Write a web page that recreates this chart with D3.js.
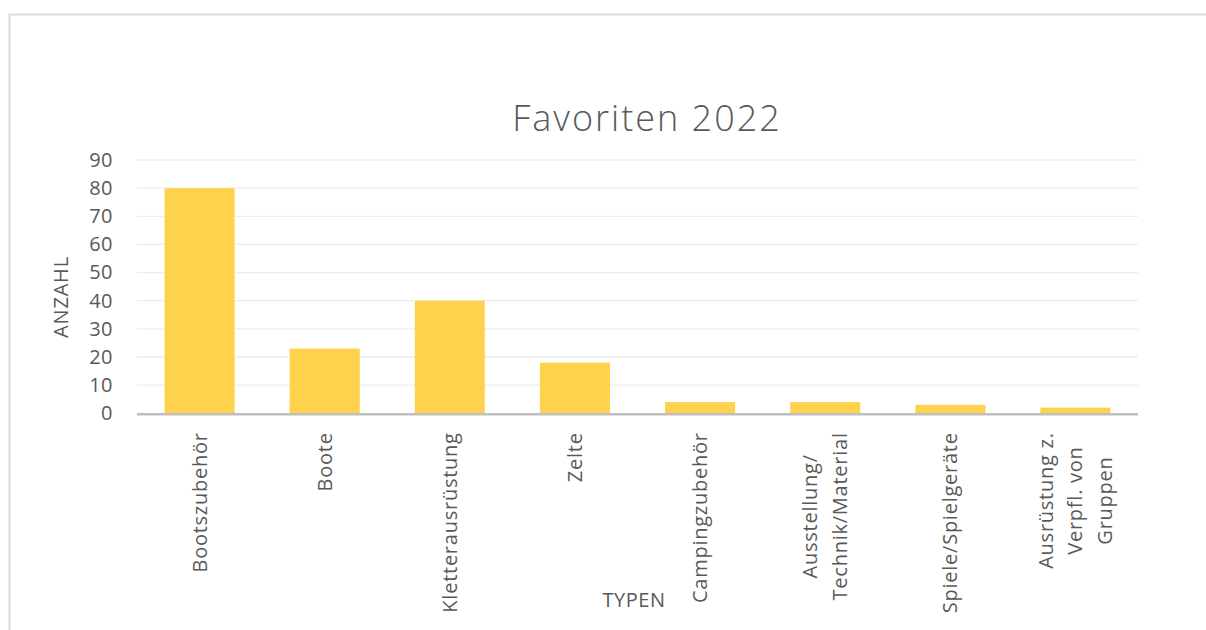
<!DOCTYPE html>
<html>
<head>
<meta charset="utf-8">
<script src="https://cdn.jsdelivr.net/npm/d3@7"></script>
<style>
  html, body { margin: 0; padding: 0; background: #fff; }
  svg { display: block; font-family: "Open Sans", sans-serif; }
</style>
</head>
<body>
<div id="chart"></div>
<script>
const categories = [
  ['Bootszubehör'],
  ['Boote'],
  ['Kletterausrüstung'],
  ['Zelte'],
  ['Campingzubehör'],
  ['Ausstellung/', 'Technik/Material'],
  ['Spiele/Spielgeräte'],
  ['Ausrüstung z.', 'Verpfl. von', 'Gruppen'],
];
const values = [80, 23, 40, 18, 4, 4, 3, 2];
const yTicks = [0, 10, 20, 30, 40, 50, 60, 70, 80, 90];

const colors = {
  bar: '#FFD24D',
  text: '#595959',
  grid: '#EDEDED',
  axis: '#BFBFBF',
  border: '#D9D9D9',
};

const svgWidth = 1206;
const svgHeight = 630;

const leftMargin = 137;
const rightMargin = 68;
const topMargin = 160;
const graphWidth = svgWidth - leftMargin - rightMargin;
const graphHeight = 413.3 - topMargin;

const svg = d3.select('#chart').append('svg')
  .attr('width', svgWidth)
  .attr('height', svgHeight);

// chart area border (only top and left edges are inside the window)
svg.append('rect')
  .attr('x', 9.5)
  .attr('y', 14.5)
  .attr('width', 1300)
  .attr('height', 700)
  .attr('fill', '#fff')
  .attr('stroke', colors.border)
  .attr('stroke-width', 2);

const plot = svg.append('g').attr('transform', `translate(${leftMargin},${topMargin})`);

const xScale = d3.scaleBand()
  .domain(d3.range(categories.length))
  .range([0, graphWidth])
  .paddingInner(0.44)
  .paddingOuter(0.22);

const yScale = d3.scaleLinear()
  .domain([0, 90])
  .range([graphHeight, 0]);

// gridlines
plot.append('g')
  .selectAll('line')
  .data(yTicks.filter(d => d > 0))
  .join('line')
    .attr('x1', 0)
    .attr('x2', graphWidth)
    .attr('y1', d => yScale(d))
    .attr('y2', d => yScale(d))
    .attr('stroke', colors.grid)
    .attr('stroke-width', 1.3);

// y axis labels
const yAxis = plot.append('g')
  .call(d3.axisLeft(yScale).tickValues(yTicks).tickSize(0).tickPadding(24));
yAxis.select('.domain').remove();
yAxis.selectAll('.tick text')
  .attr('font-size', 20)
  .attr('font-family', '"Open Sans", sans-serif')
  .attr('letter-spacing', 0.5)
  .attr('fill', colors.text);

// bars
plot.append('g')
  .selectAll('rect')
  .data(values)
  .join('rect')
    .attr('x', (d, i) => xScale(i))
    .attr('y', d => yScale(d))
    .attr('width', xScale.bandwidth())
    .attr('height', d => graphHeight - yScale(d))
    .attr('fill', colors.bar);

// x axis line
plot.append('line')
  .attr('x1', 0)
  .attr('x2', graphWidth)
  .attr('y1', graphHeight + 1)
  .attr('y2', graphHeight + 1)
  .attr('stroke', colors.axis)
  .attr('stroke-width', 2.5);

// category labels, rotated, lines centered on each other
const labelTop = graphHeight + 19;
const lineGap = 29.5;
const labels = plot.append('g')
  .selectAll('g')
  .data(categories)
  .join('g')
    .attr('font-size', 20)
    .attr('letter-spacing', 0.75)
    .attr('fill', colors.text);

labels.each(function(lines, i) {
  const g = d3.select(this);
  const texts = g.selectAll('text')
    .data(lines)
    .join('text')
      .attr('text-anchor', 'middle')
      .text(d => d);
  const maxLen = d3.max(texts.nodes(), n => n.getComputedTextLength());
  const cx = xScale(i) + xScale.bandwidth() / 2;
  const cy = labelTop + maxLen / 2;
  const offset0 = -(lines.length - 1) / 2 * lineGap;
  texts.attr('transform', (d, j) =>
    `translate(${cx + offset0 + j * lineGap + 7},${cy}) rotate(-90)`);
});

// axis titles
svg.append('text')
  .attr('x', 634)
  .attr('y', 607)
  .attr('text-anchor', 'middle')
  .attr('font-size', 20)
  .attr('letter-spacing', 0.5)
  .attr('fill', colors.text)
  .text('TYPEN');

svg.append('text')
  .attr('transform', 'translate(68,297) rotate(-90)')
  .attr('text-anchor', 'middle')
  .attr('font-size', 20)
  .attr('letter-spacing', 0.8)
  .attr('fill', colors.text)
  .text('ANZAHL');

// title
svg.append('text')
  .attr('x', 647)
  .attr('y', 131)
  .attr('text-anchor', 'middle')
  .attr('font-size', 36)
  .attr('font-weight', 300)
  .attr('letter-spacing', 2)
  .attr('fill', colors.text)
  .text('Favoriten 2022');
</script>
</body>
</html>
